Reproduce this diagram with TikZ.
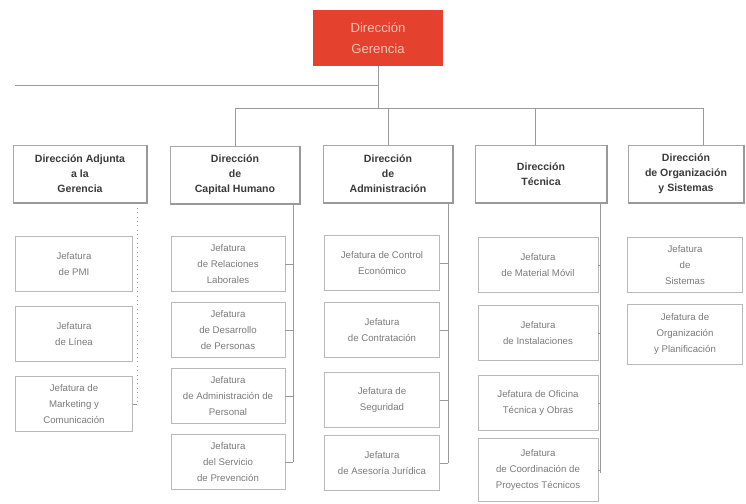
\documentclass[tikz,border=0pt]{standalone}
\usepackage{fontspec}
\setmainfont{Liberation Sans}
\definecolor{gerred}{HTML}{E4412F}
\definecolor{gerpink}{HTML}{F6C2B2}
\definecolor{dirtext}{HTML}{3A3A3A}
\definecolor{jeftext}{HTML}{7A7A7A}
\definecolor{boxline}{HTML}{A8A8A8}
\definecolor{linkline}{HTML}{9A9A9A}
\begin{document}
\begin{tikzpicture}[x=0.02cm, y=-0.02cm, align=center]
\tikzstyle{top} = [fill=gerred, text=gerpink, minimum width=2.6cm, minimum height=1.12cm, font=\fontsize{7.5}{12}\selectfont]
\tikzstyle{dir} = [draw=boxline, text=dirtext, minimum height=1.16cm, inner sep=1pt, font=\bfseries\fontsize{6}{8.5}\selectfont]
\tikzstyle{jef} = [draw=boxline!80, text=jeftext, minimum height=1.1cm, inner sep=1pt, font=\fontsize{5.5}{9}\selectfont]
\tikzstyle{e} = [draw=linkline, line width=0.5pt]
\tikzstyle{sh} = [draw=gray!80, line width=1pt]

\useasboundingbox (0,0) rectangle (746,503);

\node[top] (G) at (378, 38) {Dirección\\Gerencia};

\node[dir, minimum width=2.68cm] (D1) at (80, 174) {Dirección Adjunta\\a la\\Gerencia};
\node[dir, minimum width=2.6cm] (D2) at (235, 175) {Dirección\\de\\Capital Humano};
\node[dir, minimum width=2.6cm] (D3) at (388, 174) {Dirección\\de\\Administración};
\node[dir, minimum width=2.64cm] (D4) at (541, 174) {Dirección\\Técnica};
\node[dir, minimum width=2.32cm] (D5) at (686, 174) {Dirección\\de Organización\\y Sistemas};

% shadow edges of the headers
\draw[sh] (D1.north east) -- (D1.south east) -- (D1.south west);
\draw[sh] (D2.north east) -- (D2.south east) -- (D2.south west);
\draw[sh] (D3.north east) -- (D3.south east) -- (D3.south west);
\draw[sh] (D4.north east) -- (D4.south east) -- (D4.south west);
\draw[sh] (D5.north east) -- (D5.south east) -- (D5.south west);

\node[jef, minimum width=2.34cm] (J11) at (74, 264) {Jefatura\\de PMI};
\node[jef, minimum width=2.34cm] (J12) at (74, 334) {Jefatura\\de Línea};
\node[jef, minimum width=2.34cm] (J13) at (74, 404) {Jefatura de\\Marketing y\\Comunicación};

\node[jef, minimum width=2.28cm] (J21) at (228, 264) {Jefatura\\de Relaciones\\Laborales};
\node[jef, minimum width=2.28cm] (J22) at (228, 330) {Jefatura\\de Desarrollo\\de Personas};
\node[jef, minimum width=2.28cm] (J23) at (228, 396) {Jefatura\\de Administración de\\Personal};
\node[jef, minimum width=2.28cm] (J24) at (228, 462) {Jefatura\\del Servicio\\de Prevención};

\node[jef, minimum width=2.3cm] (J31) at (382, 263) {Jefatura de Control\\Económico};
\node[jef, minimum width=2.3cm] (J32) at (382, 330) {Jefatura\\de Contratación};
\node[jef, minimum width=2.3cm] (J33) at (382, 400) {Jefatura de\\Seguridad};
\node[jef, minimum width=2.3cm] (J34) at (382, 463) {Jefatura\\de Asesoría Jurídica};

\node[jef, minimum width=2.4cm] (J41) at (538, 265) {Jefatura\\de Material Móvil};
\node[jef, minimum width=2.4cm] (J42) at (538, 333) {Jefatura\\de Instalaciones};
\node[jef, minimum width=2.4cm] (J43) at (538, 403) {Jefatura de Oficina\\Técnica y Obras};
\node[jef, minimum width=2.4cm, minimum height=1.26cm] (J44) at (538, 470) {Jefatura\\de Coordinación de\\Proyectos Técnicos};

\node[jef, minimum width=2.3cm] (J51) at (685, 265) {Jefatura\\de\\Sistemas};
\node[jef, minimum width=2.3cm, minimum height=1.2cm] (J52) at (685, 334) {Jefatura de\\Organización\\y Planificación};

% upper links
\coordinate (L1) at (15, 85);
\coordinate (L2) at (235, 108);
\coordinate (L5) at (703, 108);
\draw[e] (G.south) -- (G.south |- L1) -- (L1);
\draw[e] (G.south |- L1) -- (G.south |- L2);
\draw[e] (L2) -- (L5);
\draw[e] (L2) -- (L2 |- D2.north);
\draw[e] (D3.north |- L2) -- (D3.north);
\draw[e] (535, 108) coordinate (L4) -- (L4 |- D4.north);
\draw[e] (L5) -- (L5 |- D5.north);

% lower links
\coordinate (B1) at (137, 405);
\coordinate (B2) at (293, 462);
\coordinate (B3) at (448, 463);
\coordinate (B4) at (600, 473);
\draw[e, dotted] (B1 |- D1.south) -- (B1);
\draw[e] (B2 |- D2.south) -- (B2);
\draw[e] (B3 |- D3.south) -- (B3);
\draw[e] (B4 |- D4.south) -- (B4);

\draw[e] (J13.east) -- (J13.east -| B1);
\draw[e] (J21.east) -- (J21.east -| B2);
\draw[e] (J22.east) -- (J22.east -| B2);
\draw[e] (J23.east) -- (J23.east -| B2);
\draw[e] (J24.east) -- (J24.east -| B2);
\draw[e] (J31.east) -- (J31.east -| B3);
\draw[e] (J32.east) -- (J32.east -| B3);
\draw[e] (J33.east) -- (J33.east -| B3);
\draw[e] (J34.east) -- (J34.east -| B3);
\draw[e] (J41.east) -- (J41.east -| B4);
\draw[e] (J42.east) -- (J42.east -| B4);
\draw[e] (J43.east) -- (J43.east -| B4);
\draw[e] (J44.east) -- (J44.east -| B4);
\end{tikzpicture}
\end{document}
